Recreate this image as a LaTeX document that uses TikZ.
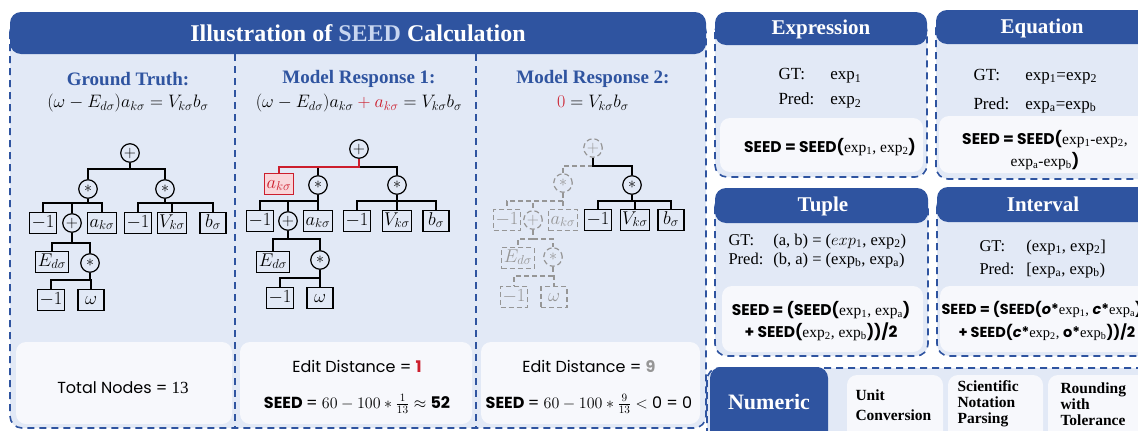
\RequirePackage{fix-cm}
\documentclass[tikz,border=0pt]{standalone}
\usepackage{fontspec}
\setmainfont{Liberation Serif}
\newfontfamily\cfont{Poppins}
\definecolor{hdr}{RGB}{47,84,160}
\definecolor{bodyc}{RGB}{226,233,246}
\definecolor{whitec}{RGB}{247,248,252}
\definecolor{seedc}{RGB}{200,214,240}
\definecolor{redc}{RGB}{204,30,45}
\definecolor{pinkc}{RGB}{249,214,218}
\definecolor{grayc}{RGB}{150,150,150}
\tikzset{
  panel/.style={draw=hdr, line width=1.6, dash pattern=on 7pt off 5pt, fill=bodyc, rounded corners=12},
  hdrbox/.style={fill=hdr, rounded corners=11},
  wbox/.style={fill=whitec, rounded corners=10},
  divider/.style={draw=hdr, line width=1.6, dash pattern=on 7pt off 5pt},
  tb/.style={draw, line width=1.1, minimum width=26, inner xsep=2, inner ysep=1.5, text height=13, text depth=5, font=\fontsize{18.5}{18.5}\selectfont},
  tc/.style={circle, draw, line width=1.2, minimum size=18.5, inner sep=0, font=\fontsize{16}{16}\selectfont},
  gre/.style={draw=grayc, text=grayc, dash pattern=on 5pt off 3pt},
  ed/.style={line width=1.1},
  hl/.style={font=\fontsize{19}{19}\selectfont\bfseries, text=hdr},
  eq/.style={font=\fontsize{18}{18}\selectfont},
  ptitle/.style={font=\fontsize{21}{21}\selectfont\bfseries, text=white},
  ctext/.style={font=\fontsize{16}{16}\selectfont\cfont},
  stext/.style={font=\fontsize{15.5}{22}\selectfont\cfont, align=center},
  ntext/.style={font=\fontsize{15.5}{16}\selectfont\bfseries, align=left, anchor=west},
}
\newcommand\ex[1]{exp\textsubscript{#1}}
\newcommand\kids[4][]{%
  \path (#2) ++(0,#3) coordinate (#2b);
  \draw[ed,#1] (#2) -- (#2b);
  \foreach \ch in {#4} {\draw[ed,#1] (#2b) -| (\ch);}%
}
\begin{document}
\begin{tikzpicture}[x=1pt,y=-1pt]
\useasboundingbox (0,0) rectangle (1138,431);
\clip (0,0) rectangle (1138,431);

% ---------------- left panel ----------------
\draw[panel] (10,20) rectangle (706,428);
\fill[hdrbox] (10,12) rectangle (706,54);
\node[font=\fontsize{24}{24}\selectfont\bfseries, text=white] (title) at (358,33) {Illustration of \textcolor{seedc}{SEED} Calculation};
\draw[divider] (235,54) -- (235,428);
\draw[divider] (476,54) -- (476,428);

\node[hl] (h1) at (128,79) {Ground Truth:};
\node[eq] (e1) at (128,103) {$(\omega-E_{d\sigma})a_{k\sigma}=V_{k\sigma}b_{\sigma}$};
\node[hl] (h2) at (359,79) {Model Response 1:};
\node[eq] (e2) at (359,103) {$(\omega-E_{d\sigma})a_{k\sigma}\mathbin{\color{redc}+}{\color{redc}a_{k\sigma}}=V_{k\sigma}b_{\sigma}$};
\node[hl] (h3) at (593,79) {Model Response 2:};
\node[eq] (e3) at (593,103) {${\color{redc}0}=V_{k\sigma}b_{\sigma}$};

% ground truth tree
\node[tc] (g0) at (130,153) {$+$};
\node[tc] (g1) at (88,189) {$\ast$};
\node[tc] (g2) at (165,189) {$\ast$};
\node[tb] (g3) at (43,223) {$-1$};
\node[tc] (g4) at (72,223) {$+$};
\node[tb] (g5) at (102,223) {$a_{k\sigma}$};
\node[tb] (g6) at (138,223) {$-1$};
\node[tb] (g7) at (172,223) {$V_{k\sigma}$};
\node[tb] (g8) at (213,223) {$b_{\sigma}$};
\node[tb] (g9) at (52,262) {$E_{d\sigma}$};
\node[tc] (g10) at (90,263) {$\ast$};
\node[tb] (g11) at (51,300) {$-1$};
\node[tb] (g12) at (91,300) {$\omega$};
\kids{g0}{16}{g1,g2}
\kids{g1}{14}{g3,g4,g5}
\kids{g2}{14}{g6,g7,g8}
\kids{g4}{20}{g9,g10}
\kids{g10}{17}{g11,g12}

% response 1 tree
\node[tc] (r0) at (359,149) {$+$};
\node[tb, draw=redc, fill=pinkc, text=redc] (ra) at (279,184) {$a_{k\sigma}$};
\node[tc] (r1) at (318,185) {$\ast$};
\node[tc] (r2) at (397,185) {$\ast$};
\node[tb] (r3) at (260,221) {$-1$};
\node[tc] (r4) at (288,221) {$+$};
\node[tb] (r5) at (318,221) {$a_{k\sigma}$};
\node[tb] (r6) at (357,221) {$-1$};
\node[tb] (r7) at (397,221) {$V_{k\sigma}$};
\node[tb] (r8) at (436,221) {$b_{\sigma}$};
\node[tb] (r9) at (273,262) {$E_{d\sigma}$};
\node[tc] (r10) at (320,260) {$\ast$};
\node[tb] (r11) at (280,298) {$-1$};
\node[tb] (r12) at (320,298) {$\omega$};
\path (r0) ++(0,18) coordinate (r0b);
\draw[ed] (r0b) -| (r1);
\draw[ed] (r0b) -| (r2);
\draw[ed, redc] (r0) -- (r0b) -| (ra);
\kids{r1}{16}{r3,r4,r5}
\kids{r2}{16}{r6,r7,r8}
\kids{r4}{18}{r9,r10}
\kids{r10}{18}{r11,r12}

% response 2 tree
\node[tc, gre] (m0) at (593,148) {$+$};
\node[tc, gre] (m1) at (563,183) {$\ast$};
\node[tc] (m2) at (632,185) {$\ast$};
\node[tb, gre] (m3) at (507,220) {$-1$};
\node[tc, gre] (m4) at (533,220) {$+$};
\node[tb, gre] (m5) at (563,220) {$a_{k\sigma}$};
\node[tb] (m6) at (598,220) {$-1$};
\node[tb] (m7) at (635,220) {$V_{k\sigma}$};
\node[tb] (m8) at (671,220) {$b_{\sigma}$};
\node[tb, gre] (m9) at (518,258) {$E_{d\sigma}$};
\node[tc, gre] (m10) at (553,257) {$\ast$};
\node[tb, gre] (m11) at (514,297) {$-1$};
\node[tb, gre] (m12) at (554,297) {$\omega$};
\path (m0) ++(0,18) coordinate (m0b);
\draw[ed, gre] (m0) -- (m0b) -| (m1);
\draw[ed] (m0) -- (m0b) -| (m2);
\kids[gre]{m1}{18}{m3,m4,m5}
\kids{m2}{16}{m6,m7,m8}
\kids[gre]{m4}{19}{m9,m10}
\kids[gre]{m10}{19}{m11,m12}

% bottom result boxes
\fill[wbox] (16,342) rectangle (232,424);
\fill[wbox] (240,342) rectangle (472,424);
\fill[wbox] (481,342) rectangle (700,424);
\node[ctext] (tn) at (123,388) {Total Nodes = {\rmfamily\fontsize{17}{17}\selectfont 13}};
\node[ctext] (ed1) at (357,366) {Edit Distance = \textcolor{redc}{\bfseries 1}};
\node[ctext, font=\fontsize{16}{16}\selectfont\cfont\bfseries] (sd1) at (357,404) {SEED \mdseries= $60-100\ast\frac{1}{13}\approx$ \bfseries 52};
\node[ctext] (ed2) at (589,366) {Edit Distance = \textcolor{grayc}{\bfseries 9}};
\node[ctext, font=\fontsize{16}{16}\selectfont\cfont\bfseries] (sd2) at (589,404) {SEED \mdseries = $60-100\ast\frac{9}{13}<$ 0 = 0};

% ---------------- right panels ----------------
% Expression
\draw[panel] (715,20) rectangle (927,177);
\fill[hdrbox] (715,12) rectangle (927,45);
\node[ptitle] (t1) at (821,29) {Expression};
\node[anchor=west, font=\fontsize{17}{25}\selectfont] (x1) at (775,87) {\begin{tabular}{@{}l@{\hspace{16pt}}l@{}}GT: & \ex{1}\\ Pred: & \ex{2}\end{tabular}};
\fill[wbox] (720,118) rectangle (923,172);
\node[stext] (s1) at (830,147) {\bfseries SEED = SEED(\mdseries\rmfamily\ex{1}, \ex{2}\cfont\bfseries)};

% Equation
\draw[panel] (936,16) rectangle (1150,179);
\fill[hdrbox] (936,10) rectangle (1150,44);
\node[ptitle] (t2) at (1042,28) {Equation};
\node[anchor=west, font=\fontsize{17}{29}\selectfont] (x2) at (970,89) {\begin{tabular}{@{}l@{\hspace{16pt}}l@{}}GT: & \ex{1}=\ex{2}\\ Pred: & \ex{a}=\ex{b}\end{tabular}};
\fill[wbox] (939,116) rectangle (1150,173);
\node[stext] (s2) at (1045,150) {\bfseries SEED = SEED(\mdseries\rmfamily\ex{1}-\ex{2},\\ \rmfamily\ex{a}-\ex{b}\cfont\bfseries)};

% Tuple
\draw[panel] (715,195) rectangle (928,356);
\fill[hdrbox] (715,188) rectangle (928,223);
\node[ptitle] (t3) at (823,206) {Tuple};
\node[anchor=west, font=\fontsize{16.5}{19}\selectfont] (x3) at (725,251) {\begin{tabular}{@{}l@{\hspace{10pt}}l@{}}GT: & (a, b) = ($exp_1$, \ex{2})\\ Pred: & (b, a) = (\ex{b}, \ex{a})\end{tabular}};
\fill[wbox] (722,286) rectangle (923,352);
\node[stext] (s3) at (821,321) {\bfseries SEED = (SEED(\mdseries\rmfamily\ex{1}, \ex{a}\cfont\bfseries)\\ \bfseries + SEED(\mdseries\rmfamily\ex{2}, \ex{b}\cfont\bfseries))/2};

% Interval
\draw[panel] (937,195) rectangle (1150,356);
\fill[hdrbox] (937,187) rectangle (1150,222);
\node[ptitle] (t4) at (1043,204) {Interval};
\node[anchor=west, font=\fontsize{16.5}{23}\selectfont] (x4) at (976,258) {\begin{tabular}{@{}l@{\hspace{12pt}}l@{}}GT: & (\ex{1}, \ex{2}]\\ Pred: & [\ex{a}, \ex{b})\end{tabular}};
\fill[wbox] (940,286) rectangle (1150,352);
\node[stext, anchor=west, font=\fontsize{14.5}{22}\selectfont\cfont] (s4a) at (938,309) {\bfseries SEED = (SEED(\itshape o\upshape*\mdseries\rmfamily\ex{1}, \cfont\bfseries\itshape c\upshape*\mdseries\rmfamily\ex{a}\cfont\bfseries)};
\node[stext, anchor=west, font=\fontsize{14.5}{22}\selectfont\cfont] (s4b) at (955,332) {\bfseries + SEED(\itshape c\upshape*\mdseries\rmfamily\ex{2}, \cfont\bfseries o*\mdseries\rmfamily\ex{b}\cfont\bfseries))/2};

% Numeric
\draw[panel] (707,368) rectangle (1150,445);
\fill[hdrbox] (710,367) rectangle (828,445);
\node[ptitle, font=\fontsize{22}{22}\selectfont\bfseries] (t5) at (769,402) {Numeric};
\fill[wbox] (847,375) rectangle (943,445);
\fill[wbox] (948,375) rectangle (1043,445);
\fill[wbox] (1048,375) rectangle (1150,445);
\node[ntext, font=\fontsize{15.5}{20}\selectfont\bfseries] (n1) at (852,405) {Unit\\Conversion};
\node[ntext] (n2) at (954,404) {Scientific\\Notation\\Parsing};
\node[ntext] (n3) at (1057,404) {Rounding\\with\\Tolerance};
\end{tikzpicture}
\end{document}
